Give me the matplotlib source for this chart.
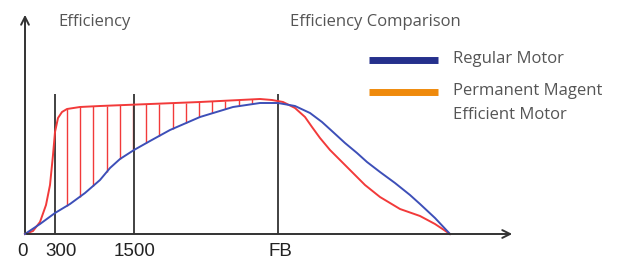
import numpy as np
import matplotlib.pyplot as plt

plt.rcParams['font.family'] = ['Open Sans', 'DejaVu Sans']

# curve values (x: speed units, y: efficiency units)
x_regular = [0, 15, 30, 45, 60, 75, 85, 95, 109, 125, 145, 175, 208, 235, 253,
             270, 285, 297, 308, 320, 332, 342, 355, 370, 385, 395, 410, 425]
y_regular = [0, 10, 21, 30, 41, 54, 66, 75, 84, 93, 104, 117, 127, 131, 131,
             128, 121, 112, 102, 91, 81, 72, 62, 51, 39, 30, 16, 0]

x_pm = [0, 8, 15, 21, 25, 28, 30, 33, 37, 42, 55, 75, 125, 175, 215, 235, 247,
        258, 270, 280, 287, 295, 305, 315, 327, 340, 355, 375, 395, 410, 425]
y_pm = [0, 3, 12, 29, 49, 79, 102, 116, 122, 125, 127, 128, 130, 132, 134, 135,
        134, 132, 126, 117, 107, 96, 84, 74, 62, 49, 37, 25, 18, 10, 0]

speed_ticks = [0, 30, 109, 253]
speed_labels = ['0', '300', '1500', 'FB']
legend_labels = ['Regular Motor', 'Permanent Magent', 'Efficient Motor']

fig = plt.figure(figsize=(6.18, 2.64), dpi=100)
ax = fig.add_axes([0, 0, 1, 1])
ax.set_xlim(-25, 593)
ax.set_ylim(-30, 234)
ax.axis('off')

red = '#f23a3a'
blue = '#3d4fb8'
axis_col = '#333333'
text_col = '#555555'

# hatching between the two curves
hx = np.arange(42, 232, 13.2)
ax.vlines(hx, np.interp(hx, x_regular, y_regular), np.interp(hx, x_pm, y_pm),
          color=red, lw=1.0)

# marker lines at the tick speeds
ax.vlines(speed_ticks[1:], 0, 140, color=axis_col, lw=1.3)

ax.plot(x_pm, y_pm, color=red, lw=1.4)
ax.plot(x_regular, y_regular, color=blue, lw=1.4)

# axes with arrows
ax.annotate('', xy=(0, 222), xytext=(0, -1),
            arrowprops=dict(arrowstyle='->', color=axis_col, lw=1.4, mutation_scale=14))
ax.annotate('', xy=(490, 0), xytext=(-1, 0),
            arrowprops=dict(arrowstyle='->', color=axis_col, lw=1.4, mutation_scale=14))

label_shift = [-3, 6, 1, 2]
for xt, lab, dx in zip(speed_ticks, speed_labels, label_shift):
    ax.text(xt + dx, -18, lab, ha='center', va='center', fontsize=13.5,
            color='#222222', family='Liberation Sans')

ax.text(33, 212, 'Efficiency', fontsize=12, color=text_col, va='center')
ax.text(265, 212, 'Efficiency Comparison', fontsize=12, color=text_col, va='center')

# legend drawn by hand
ax.plot([344, 413], [174, 174], color='#25308c', lw=5, solid_capstyle='butt')
ax.plot([344, 413], [142, 142], color='#ef8a0c', lw=5, solid_capstyle='butt')
for yy, lab in zip([175, 143, 119], legend_labels):
    ax.text(428, yy, lab, fontsize=12, color=text_col, va='center')

fig.savefig('out.png', dpi=100)
